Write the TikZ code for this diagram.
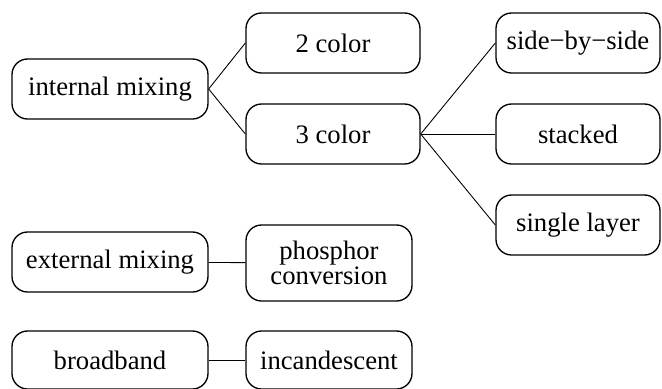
\documentclass[tikz,border=0pt]{standalone}
\usepackage{fontspec}
\setmainfont{Liberation Serif}
\usepackage{tikz}
\usetikzlibrary{positioning}

\begin{document}
\begin{tikzpicture}[x=0.45pt,y=-0.45pt]
\tikzstyle{box}=[draw=black,rounded corners=7pt,line width=0.6pt,minimum height=27pt,inner sep=2pt,align=center,font=\fontsize{12}{11.5}\selectfont]
\useasboundingbox (0,0) rectangle (662,388);
\node [box,minimum width=88.2pt] (internal) at(110,89) {internal mixing};
\node [box,minimum width=78.3pt] (twocol) at(333,43) {2 color};
\node [box,minimum width=78.3pt] (threecol) at(333,134) {3 color};
\node [box,minimum width=73.8pt] (side) at(578,43) {side−by−side};
\node [box,minimum width=73.8pt] (stacked) at(578,134) {stacked};
\node [box,minimum width=73.8pt] (single) at(578,225) {single layer};
\node [box,minimum width=88.2pt] (external) at(110,262) {external mixing};
\node [box,minimum width=74.7pt,minimum height=34.2pt] (phosphor) at(329,263) {phosphor\\conversion};
\node [box,minimum width=88.2pt,minimum height=26.1pt] (broad) at(110,360) {broadband};
\node [box,minimum width=74.7pt,minimum height=26.1pt] (incand) at(329,360) {incandescent};

\path (internal.east) edge (twocol.west);
\path (internal.east) edge (threecol.west);
\path (threecol.east) edge (side.west);
\path (threecol.east) edge (stacked.west);
\path (threecol.east) edge (single.west);
\path (external) edge (phosphor);
\path (broad) edge (incand);
\end{tikzpicture}
\end{document}
